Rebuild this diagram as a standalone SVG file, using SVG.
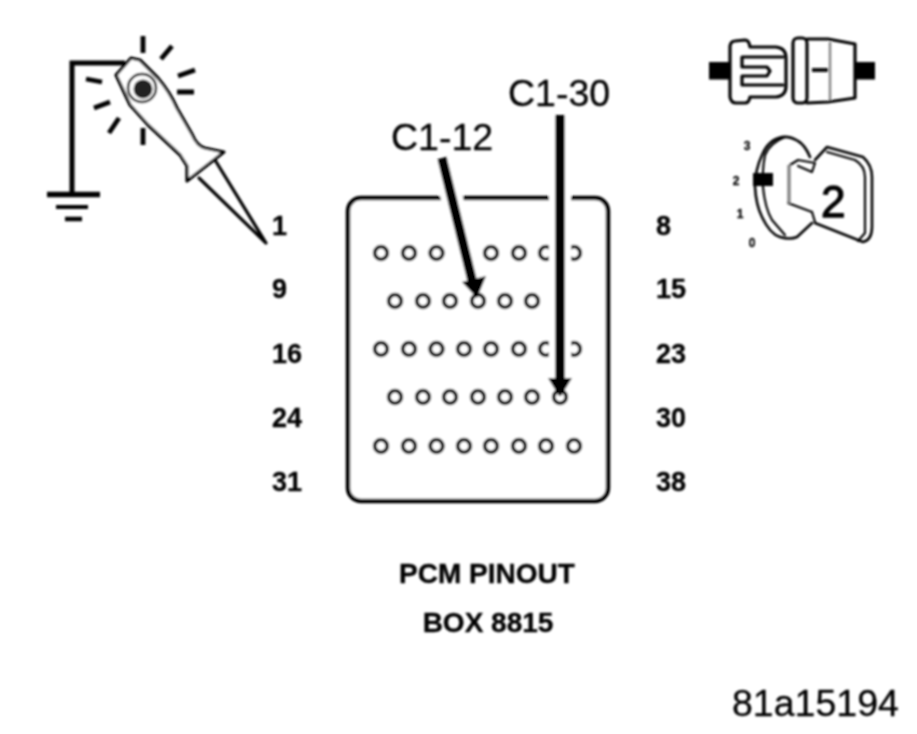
<svg xmlns="http://www.w3.org/2000/svg" width="917" height="734" viewBox="0 0 917 734">
<defs>
<style>
text{font-family:"Liberation Sans",Arial,sans-serif;fill:#000;stroke:#000;stroke-width:.3}
.n{font-size:27px;font-weight:700}
.c{font-size:37.500px}
.t{font-size:28px;font-weight:700}
.k{font-size:12px;font-weight:700;text-anchor:middle}
.o{fill:none;stroke:#000;stroke-width:3.200;stroke-linejoin:round;stroke-linecap:round}
.th{fill:none;stroke:#000;stroke-width:2.200;stroke-linejoin:round;stroke-linecap:round}
.ray{stroke:#000;stroke-width:4.800;stroke-linecap:butt}
.pin{fill:#fff;stroke:#000;stroke-width:3.800}
.halo{fill:none;stroke:#fff;stroke-width:22}
.arr{fill:none;stroke:#000;stroke-width:9.500}
.head{fill:#000}
</style>
<filter id="soft" x="-5%" y="-5%" width="110%" height="110%"><feGaussianBlur stdDeviation="0.85"/></filter>
<circle id="p" class="pin" r="6.300"/>
</defs>
<rect width="917" height="734" fill="#fff"/>
<g filter="url(#soft)">
<g id="ground-probe">
<path d="M125 63H72V195" fill="none" stroke="#000" stroke-width="5"/>
<path d="M47 194.500H100" stroke="#000" stroke-width="5.500"/>
<path d="M56 207H88" stroke="#000" stroke-width="4"/>
<path d="M65 219H82" stroke="#000" stroke-width="4.500"/>
<path class="o" d="M131 58L140 60L158 78Q170 92 177 108L192 134Q197 146 205 148L224 152L187 181L187 166L180 155L148 125L130 105L116 75Z" style="fill:#fff"/>
<path class="th" d="M218 157L187 181"/>
<path class="o" d="M215 160L266 243L199 178"/>
<circle cx="142" cy="88" r="14" class="o" style="stroke-width:2.500"/>
<circle cx="143" cy="89" r="9.500" fill="#222"/>
<path class="ray" d="M143 36V53M172 46L161 59M195 70L178 76M194 92H177M86 79L102 82M94 108L110 102M109 133L119 118M143 128V145"/>
</g>
<g id="connector-icon">
<rect x="709" y="62" width="22" height="17.500" fill="#000"/>
<rect x="856" y="62" width="19" height="17.500" fill="#000"/>
<path class="o" d="M735 41Q731 41 730 46V97Q731 103 736 103H745Q749 103 750 97H776Q786 96 786 86V58Q786 48 776 47H750Q749 40 745 40Z"/>
<path class="o" d="M783 57H742V67H767L770 71L767 76H742V85H783"/>
<rect x="793" y="38" width="14" height="65" rx="5" class="o"/>
<path class="o" d="M807 39H828L855 44V98L828 102L807 103"/>
<path d="M830 42V100" stroke="#888" stroke-width="2.500" fill="none"/>
<path d="M812 70H828" stroke="#111" stroke-width="4"/>
</g>
<g id="ignition-key">
<path class="o" style="stroke-width:2.600" d="M815 160L827 147L863 157Q872 165 872 177V227Q872 240 863 242L815 223"/>
<path class="th" d="M827 152L855 160Q865 166 865 177V233L858 241"/>
<path class="o" style="stroke-width:2.600" d="M810 157Q805 145 798 141Q790 136 782 137Q768 140 762 155Q755 170 755 187Q756 205 762 217Q770 234 780 237Q790 240 797 237L812 223"/>
<path class="th" d="M785 137Q770 143 765 155Q762 170 763 187Q765 208 772 220L785 235"/>
<path class="th" d="M790 165L798 160L815 163L812 172L798 166M812 212L815 222"/>
<path class="th" d="M788 203L812 212"/>
<path d="M789 165V203" stroke="#888" stroke-width="3.500" fill="none"/>
<rect x="753" y="173" width="20" height="13" fill="#000"/>
<text class="k" x="747" y="150">3</text>
<text class="k" x="736" y="185">2</text>
<text class="k" x="740" y="218">1</text>
<text class="k" x="752" y="247">0</text>
<text x="821" y="217" style="font-size:44px;stroke-width:1.300">2</text>
</g>
<g id="pcm-connector">
<rect x="348" y="198" width="260" height="303" rx="13" fill="#fff" stroke="#000" stroke-width="4.500"/>
<g id="pins">
<use href="#p" x="381" y="253"/><use href="#p" x="409" y="253"/><use href="#p" x="436.500" y="253"/><use href="#p" x="491" y="253"/><use href="#p" x="519" y="253"/><use href="#p" x="546" y="253"/><use href="#p" x="574" y="253"/>
<use href="#p" x="395" y="301"/><use href="#p" x="423" y="301"/><use href="#p" x="450" y="301"/><use href="#p" x="478" y="301"/><use href="#p" x="505" y="301"/><use href="#p" x="532" y="301"/>
<use href="#p" x="381" y="349"/><use href="#p" x="409" y="349"/><use href="#p" x="436.500" y="349"/><use href="#p" x="464" y="349"/><use href="#p" x="491" y="349"/><use href="#p" x="519" y="349"/><use href="#p" x="546" y="349"/><use href="#p" x="574" y="349"/>
<use href="#p" x="395" y="397"/><use href="#p" x="423" y="397"/><use href="#p" x="450" y="397"/><use href="#p" x="478" y="397"/><use href="#p" x="505" y="397"/><use href="#p" x="532" y="397"/><use href="#p" x="560" y="397"/>
<use href="#p" x="381" y="446"/><use href="#p" x="409" y="446"/><use href="#p" x="436.500" y="446"/><use href="#p" x="464" y="446"/><use href="#p" x="491" y="446"/><use href="#p" x="519" y="446"/><use href="#p" x="546" y="446"/><use href="#p" x="574" y="446"/>
</g>
</g>
<g id="connectors">
<path class="halo" d="M442 160L471 272"/>
<path class="halo" d="M560 116V372"/>
<path class="arr" d="M442 158L472 280"/>
<path class="arr" d="M560 115V380"/>
<path class="head" d="M462 282L486 276L477 298Z"/>
<path class="head" d="M548 378H572L561 396H559Z"/>
</g>
<g id="labels">
<text class="n" x="272" y="235">1</text>
<text class="n" x="272" y="298">9</text>
<text class="n" x="272" y="363">16</text>
<text class="n" x="272" y="427">24</text>
<text class="n" x="272" y="491">31</text>
<text class="n" x="656" y="235">8</text>
<text class="n" x="656" y="298">15</text>
<text class="n" x="656" y="363">23</text>
<text class="n" x="656" y="427">30</text>
<text class="n" x="656" y="491">38</text>
<text class="c" x="508" y="106">C1-30</text>
<text class="c" x="391" y="150">C1-12</text>
<text class="t" x="487" y="583" text-anchor="middle">PCM PINOUT</text>
<text class="t" x="488" y="632" text-anchor="middle">BOX 8815</text>
<text class="c" x="732" y="716">81a15194</text>
</g>
</g>
</svg>
